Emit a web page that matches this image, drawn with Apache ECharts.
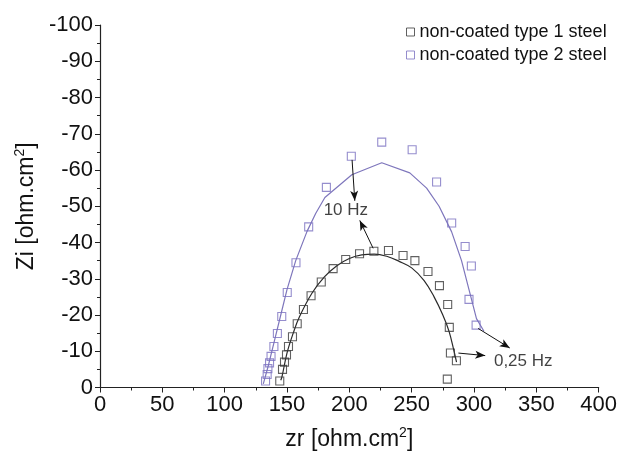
<!DOCTYPE html>
<html>
<head>
<meta charset="utf-8">
<script src="https://cdn.jsdelivr.net/npm/echarts@6/dist/echarts.min.js"></script>
<style>html,body{margin:0;padding:0;background:#fff}#c{width:620px;height:456px}</style>
</head>
<body>
<div id="c"></div>
<script>
// ---- data ----
const seriesNames = ['non-coated type 1 steel', 'non-coated type 2 steel'];
const type1Points = [
  [144.2,-1.8],[146.4,-5.0],[148.0,-7.0],[149.6,-9.0],[151.2,-11.3],[154.4,-14.0],
  [158.2,-17.6],[163.2,-21.5],[169.3,-25.3],[177.5,-29.1],[187.0,-32.8],[197.1,-35.3],
  [208.2,-36.9],[219.7,-37.6],[231.4,-37.8],[243.1,-36.4],[252.6,-35.0],[263.1,-32.0],
  [272.3,-28.1],[278.9,-22.9],[280.2,-16.6],[281.1,-9.5],[285.9,-7.4],[278.6,-2.3]
];
const type2Points = [
  [132.8,-1.8],[134.1,-3.6],[134.7,-5.2],[136.0,-6.8],[137.2,-8.6],[139.5,-11.3],
  [142.3,-14.9],[145.8,-19.6],[150.2,-26.2],[157.2,-34.4],[167.4,-44.3],[181.6,-55.2],
  [201.6,-63.8],[226.0,-67.7],[250.4,-65.6],[270.0,-56.7],[282.1,-45.4],[292.9,-38.9],
  [297.9,-33.5],[296.0,-24.3],[301.7,-17.2]
];
const type1Fit = [
  [145,-2],[146,-3],[150,-9.5],[155,-15],[160,-19.5],[170,-26],[180,-30.5],[190,-33.6],
  [200,-35.6],[210,-36.6],[220,-36.8],[230,-36.2],[240,-34.8],[250,-33],[260,-29.5],
  [268,-25],[275,-20],[280,-15.5],[284,-10],[286,-7]
];
const type2Fit = [
  [131,-1],[135,-6],[140,-13],[145,-20],[150,-27],[157,-35],[166,-43],[173,-48],
  [180.4,-52.4],[202,-58.7],[226,-62],[248.5,-59.2],[262,-55],[272,-50],[282,-43],
  [290,-35],[296,-27],[302,-19],[308,-15.5]
];
const arrows = [
  [[202.2,-62.8],[204.4,-51.5]],
  [[219.1,-38.4],[208.4,-46.1]],
  [[287.5,-9.5],[309,-8.8]],
  [[303.3,-16.3],[328.7,-10.9]]
];
const annotations = [[197.2,-49,'10 Hz'],[339.5,-7.1,'0,25 Hz']];
const xTicks = {min:0, max:400, interval:50};
const yTicks = {min:-100, max:0, interval:10};

// ---- chart ----
const FONT = "'Liberation Sans', Arial, sans-serif";
const C1 = '#3a3a3a', C2 = '#7b70c0';
const chart = echarts.init(document.getElementById('c'), null, {renderer:'canvas'});
const axisCommon = {
  axisLine:{show:true, onZero:false, lineStyle:{color:'#222', width:1.2}},
  axisTick:{show:true, inside:false, length:5, lineStyle:{color:'#222'}},
  minorTick:{show:true, splitNumber:2, length:3, lineStyle:{color:'#222'}},
  splitLine:{show:false}
};
const labelStyle = {color:'#111', fontSize:22, fontFamily:FONT};
const titleStyle = {fontSize:23, fontFamily:FONT, color:'#111',
  rich:{sup:{fontSize:14, fontFamily:FONT, color:'#111', verticalAlign:'top', padding:[0,0,12,0]}}};
chart.setOption({
  animation:false,
  grid:{left:100, right:21, top:25, bottom:63, containLabel:false},
  legend:{
    orient:'vertical', left:401, top:18, itemGap:5, itemWidth:8, itemHeight:8,
    textStyle:{fontSize:18, fontFamily:FONT, color:'#111', padding:[0,0,0,0]},
    data:[
      {name:seriesNames[0], icon:'rect', itemStyle:{color:'#fff', borderColor:C1, borderWidth:1}},
      {name:seriesNames[1], icon:'rect', itemStyle:{color:'#fff', borderColor:C2, borderWidth:1}}
    ]
  },
  xAxis:Object.assign({type:'value', min:xTicks.min, max:xTicks.max, interval:xTicks.interval,
    name:'zr [ohm.cm{sup|2}]', nameLocation:'middle', nameGap:39, nameTextStyle:titleStyle,
    axisLabel:Object.assign({margin:6}, labelStyle)}, axisCommon),
  yAxis:Object.assign({type:'value', min:yTicks.min, max:yTicks.max, interval:yTicks.interval, inverse:true,
    name:'Zi [ohm.cm{sup|2}]', nameLocation:'middle', nameGap:55, nameRotate:90, nameTextStyle:titleStyle,
    axisLabel:Object.assign({margin:7}, labelStyle)}, axisCommon),
  series:[
    {name:seriesNames[0], type:'scatter', data:type1Points, symbol:'rect', symbolSize:8,
      itemStyle:{color:'rgba(255,255,255,0)', borderColor:C1, borderWidth:1.1}, z:3},
    {name:seriesNames[1], type:'scatter', data:type2Points, symbol:'rect', symbolSize:8,
      itemStyle:{color:'rgba(255,255,255,0)', borderColor:C2, borderWidth:1.1}, z:3},
    {name:'fit1', type:'line', data:type1Fit, smooth:0.4, showSymbol:false,
      lineStyle:{color:'#2a2a2a', width:1.2}, z:2},
    {name:'fit2', type:'line', data:type2Fit, smooth:false, showSymbol:false,
      lineStyle:{color:'#7e76bc', width:1.2}, z:2},
    {name:'arrows', type:'line', data:[], z:4,
      markLine:{silent:true, symbol:['none','arrow'], symbolSize:[6,10],
        itemStyle:{color:'#111'},
        lineStyle:{color:'#111', width:1, type:'solid'}, label:{show:false},
        data:arrows.map(a => [{coord:a[0]},{coord:a[1]}])}},
    {name:'annot', type:'scatter', data:annotations, symbolSize:0, z:5,
      label:{show:true, position:'inside', formatter:p => p.data[2],
        fontSize:17, fontFamily:FONT, color:'#111'}}
  ]
});
</script>
</body>
</html>
